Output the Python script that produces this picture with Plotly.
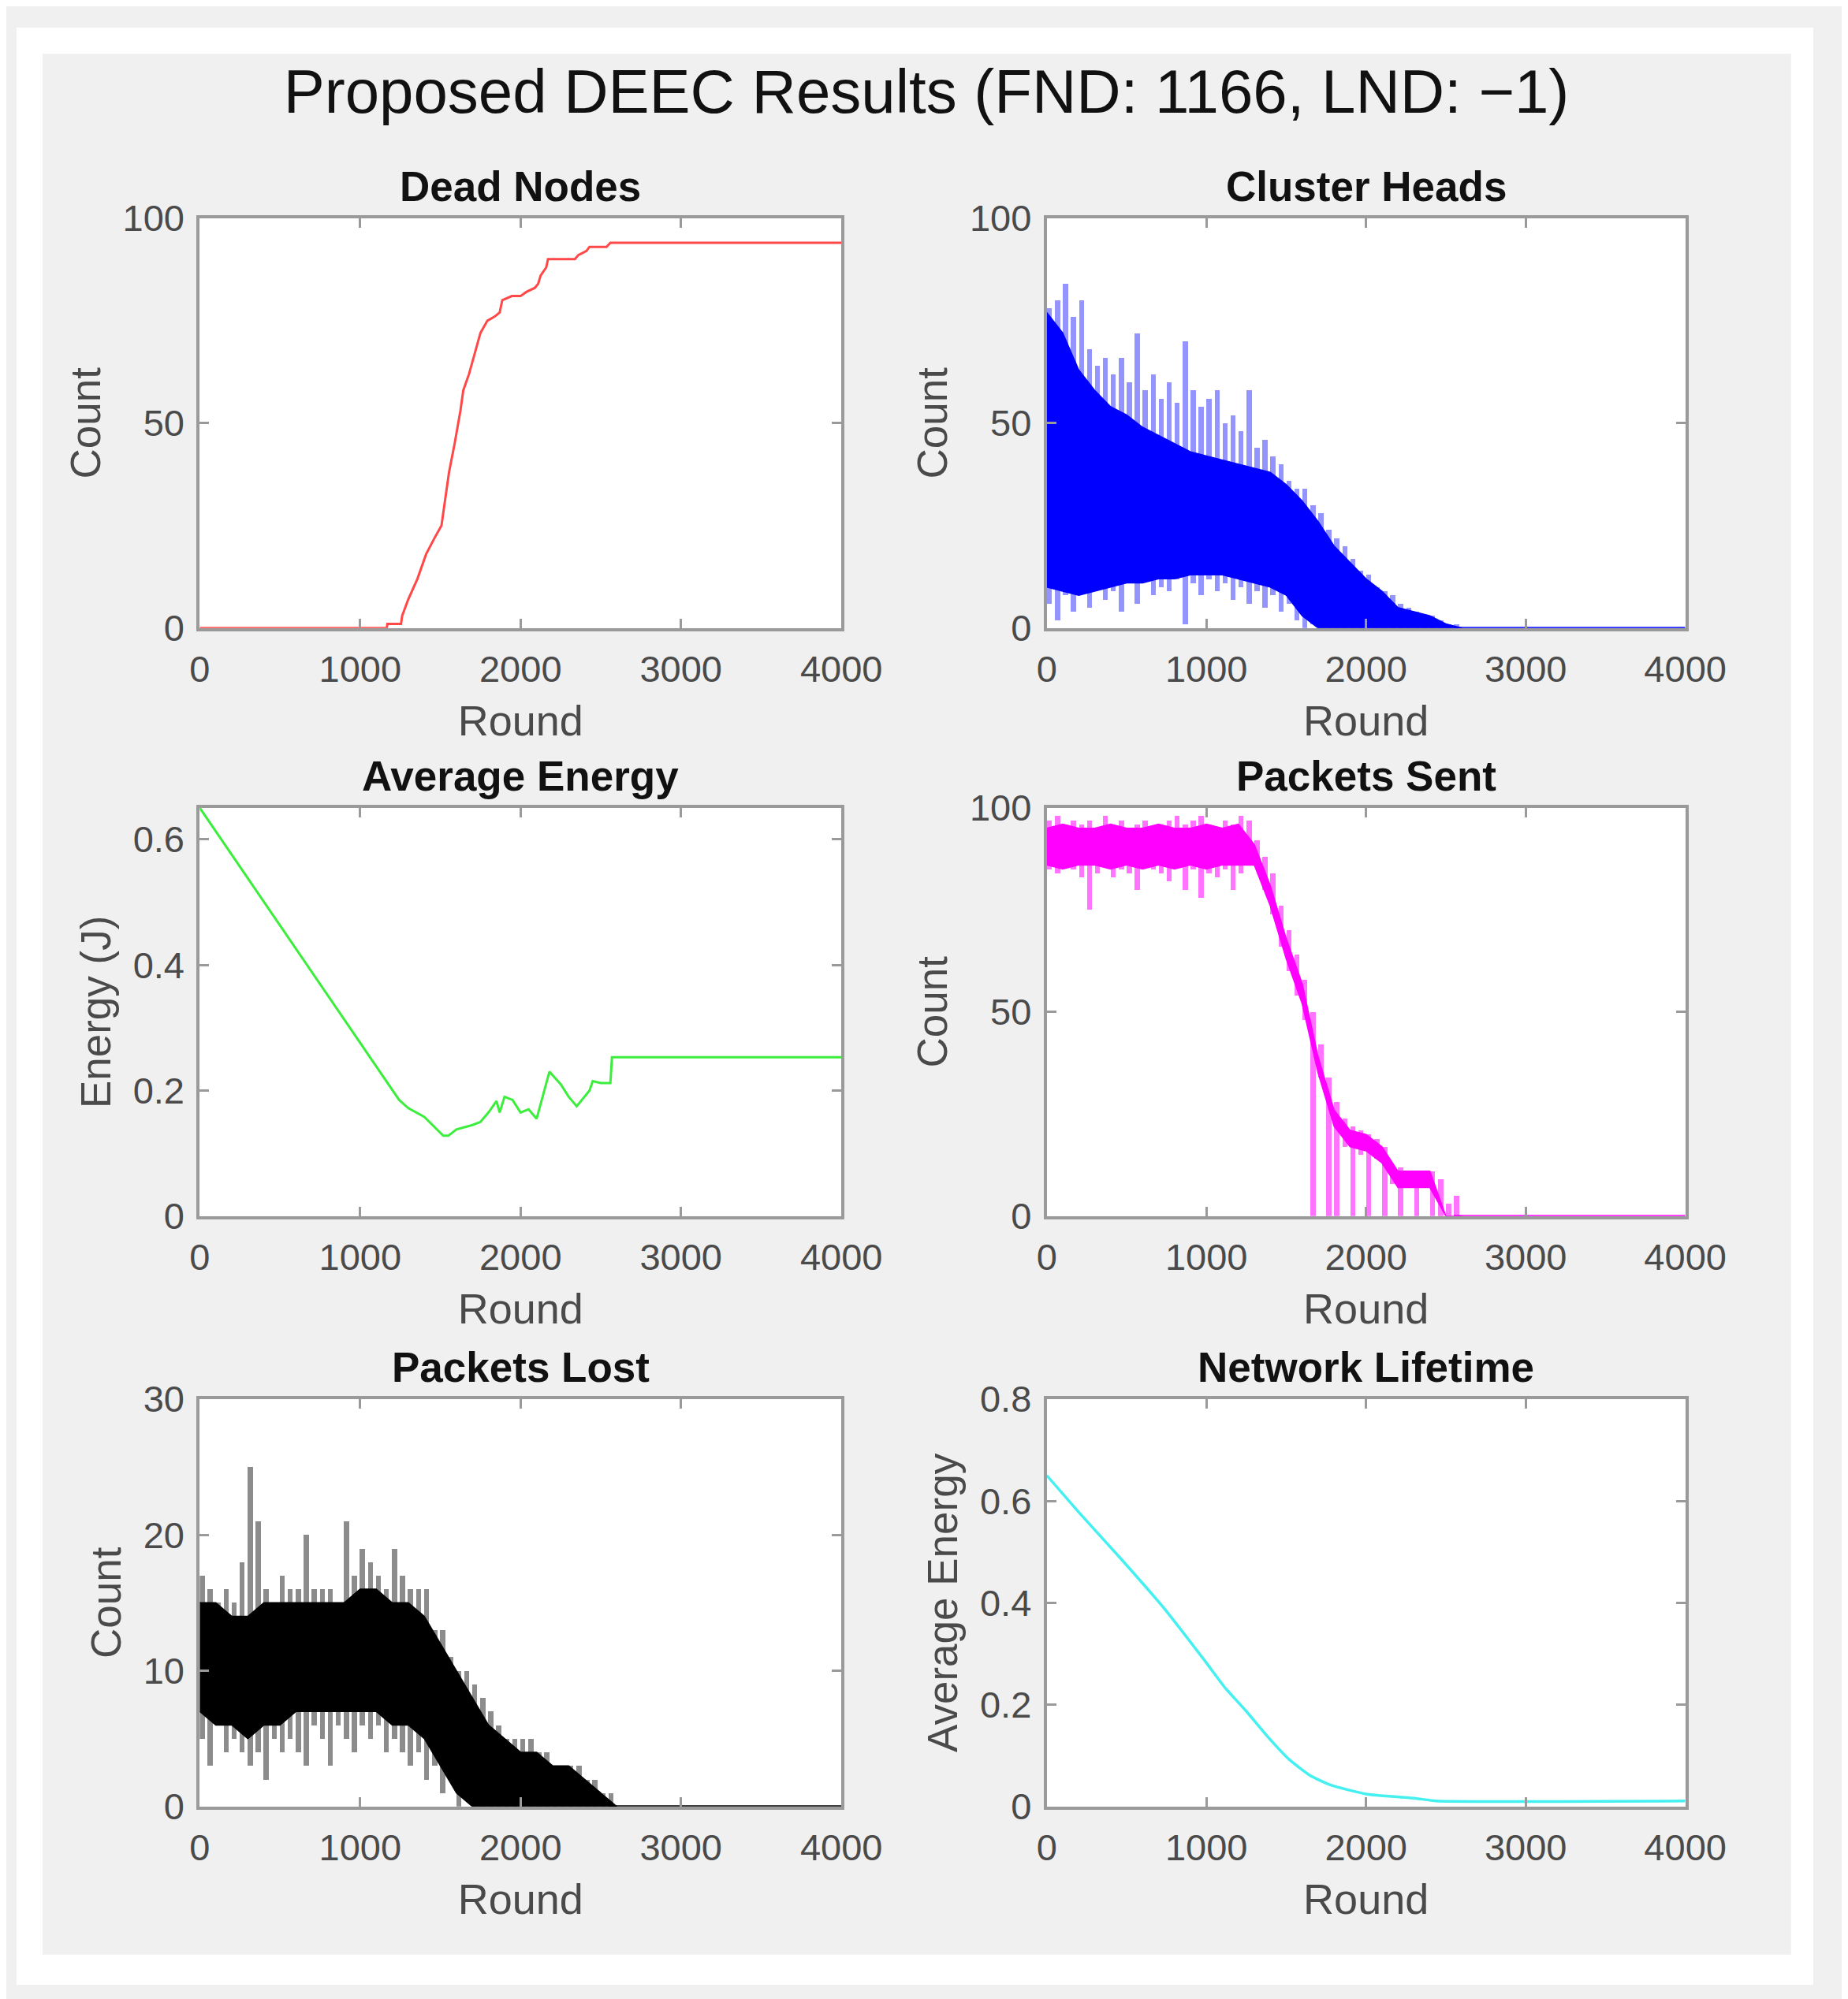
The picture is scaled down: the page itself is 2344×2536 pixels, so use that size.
import numpy as np
import plotly.graph_objects as go

W, H = 2344, 2536

# ---- data ----
# Dead Nodes
dn_rounds = [0, 1166, 1170, 1255, 1262, 1300, 1357, 1411, 1464, 1507, 1554, 1589, 1625, 1643, 1679,
             1714, 1750, 1793, 1839, 1870, 1886, 1946, 2000, 2036, 2089, 2110, 2125, 2160, 2171, 2339,
             2360, 2411, 2430, 2464, 2536, 2560, 2579, 4000]
dn_vals = [0, 0, 1, 1, 3, 7, 12, 18, 22, 25, 38, 45, 53, 58, 62,
           67, 72, 75, 76, 77, 80, 81, 81, 82, 83, 84, 86, 88, 90, 90,
           91, 92, 93, 93, 93, 94, 94, 94]

# Average Energy
ae_rounds = [0, 1243, 1300, 1400, 1518, 1550, 1600, 1700, 1750, 1800, 1850, 1870, 1900, 1950, 2000,
             2050, 2100, 2150, 2180, 2250, 2300, 2350, 2400, 2430, 2450, 2500, 2560, 2570, 4000]
ae_vals = [0.65, 0.185, 0.172, 0.158, 0.128, 0.128, 0.138, 0.145, 0.150, 0.165, 0.183, 0.165, 0.190, 0.185, 0.165,
           0.170, 0.155, 0.200, 0.230, 0.210, 0.190, 0.175, 0.190, 0.200, 0.215, 0.212, 0.212, 0.253, 0.253]

# Network Lifetime
nl_rounds = [0, 200, 460, 730, 1000, 1120, 1250, 1390, 1520, 1650, 1780, 2010, 2310, 2440, 4000]
nl_vals = [0.65, 0.578, 0.488, 0.391, 0.282, 0.232, 0.187, 0.135, 0.092, 0.061, 0.042, 0.024, 0.016, 0.011, 0.011]

# noisy series: solid core (every 100 rounds) + spikes (peak / dip every 50 rounds)
band_rounds = np.arange(0, 2700, 100)
spike_rounds = np.arange(0, 2600, 50) + 16
tail_rounds = [2550, 4000]

# Cluster Heads
ch_core_top = [77, 72, 63, 58, 54, 52, 49, 47, 45, 43, 42, 41, 40, 39, 38, 35, 31, 26, 20, 16, 12, 9, 5, 4, 3, 1, 0]
ch_core_bot = [10, 9, 8, 9, 10, 11, 11, 12, 12, 13, 13, 13, 12, 11, 10, 8, 3, 0, 0, 0, 0, 0, 0, 0, 0, 0, 0]
ch_hi = [78, 80, 84, 76, 80, 68, 64, 66, 62, 66,
         60, 72, 58, 62, 56, 60, 55, 70, 58, 54,
         56, 58, 50, 52, 48, 58, 44, 46, 42, 40,
         36, 34, 34, 30, 28, 24, 22, 20, 17, 14,
         13, 10, 9, 8, 6, 5, 4, 3, 3, 2,
         1, 1]
ch_lo = [6, 2, 8, 4, 9, 5, 10, 7, 9, 4,
         11, 6, 12, 8, 10, 9, 12, 1, 11, 8,
         12, 9, 11, 7, 10, 6, 9, 5, 8, 4,
         6, 2, 0, 1, 0, 0, 0, 0, 0, 0,
         0, 0, 0, 0, 0, 0, 0, 0, 0, 0,
         0, 0]
ch_tail = [0, 0]

# Packets Sent
ps_core_top = [95, 96, 95, 95, 96, 95, 95, 96, 95, 95, 96, 95, 96,
               91, 81, 68, 57, 39, 26, 21, 20, 17, 11, 11, 11, 0, 0]
ps_core_bot = [86, 85, 86, 86, 85, 86, 85, 86, 85, 86, 85, 86, 86,
               86, 76, 63, 52, 35, 22, 17, 16, 13, 7, 7, 7, 0, 0]
ps_hi = [97, 98, 96, 97, 96, 97, 95, 98, 96, 97,
         95, 96, 97, 95, 96, 97, 98, 96, 97, 98,
         96, 95, 97, 96, 98, 97, 92, 88, 84, 76,
         70, 64, 58, 50, 42, 34, 28, 24, 22, 21,
         20, 19, 17, 12, 12, 11, 11, 11, 11, 9,
         3, 5]
ps_lo = [85, 84, 86, 85, 83, 75, 84, 86, 83, 85,
         84, 80, 86, 85, 84, 82, 86, 80, 85, 78,
         84, 83, 85, 80, 84, 86, 86, 80, 74, 66,
         60, 54, 48, 0, 34, 0, 0, 17, 0, 15,
         0, 14, 0, 8, 0, 7, 0, 7, 0, 0,
         0, 0]
ps_tail = [0, 0]

# Packets Lost
pl_core_top = [15, 15, 14, 14, 15, 15, 15, 15, 15, 15, 16, 16, 15, 15, 14, 12, 10, 8, 6, 5, 4, 4, 3, 3, 2, 1, 0]
pl_core_bot = [7, 6, 6, 5, 6, 6, 7, 7, 7, 7, 7, 7, 6, 6, 5, 3, 1, 0, 0, 0, 0, 0, 0, 0, 0, 0, 0]
pl_hi = [17, 16, 15, 16, 15, 18, 25, 21, 16, 15,
         17, 16, 16, 20, 16, 16, 16, 15, 21, 17,
         19, 18, 17, 16, 19, 17, 16, 16, 16, 13,
         13, 11, 10, 10, 9, 8, 7, 6, 5, 5,
         5, 5, 4, 4, 3, 3, 3, 3, 2, 2,
         1, 1]
pl_lo = [5, 3, 6, 4, 5, 4, 3, 4, 2, 5,
         4, 5, 4, 3, 6, 5, 3, 6, 5, 4,
         6, 5, 6, 4, 5, 4, 3, 4, 2, 3,
         1, 2, 0, 1, 0, 0, 0, 0, 0, 0,
         0, 0, 0, 0, 0, 0, 0, 0, 0, 0,
         0, 0]
pl_tail = [0, 0]

# ---- layout helpers (pixel boxes measured on the reference) ----
cols_px = [(239, 1076), (1344, 2177)]
rows_px = [(247, 778), (1011, 1540), (1777, 2305)]

def xd(c):
    return [cols_px[c][0] / W, cols_px[c][1] / W]

def yd(r):
    return [1 - rows_px[r][1] / H, 1 - rows_px[r][0] / H]

FONT = "Liberation Sans"
AXCOL = "#9a9a9a"
TXT = "#4a4a4a"

fig = go.Figure()

panels = [
    # (row, col, title, ytitle, yrange, ytickvals, yticktext)
    (0, 0, "Dead Nodes", "Count", [0, 100], [0, 50, 100], ["0", "50", "100"]),
    (0, 1, "Cluster Heads", "Count", [0, 100], [0, 50, 100], ["0", "50", "100"]),
    (1, 0, "Average Energy", "Energy (J)", [0, 0.65], [0, 0.2, 0.4, 0.6], ["0", "0.2", "0.4", "0.6"]),
    (1, 1, "Packets Sent", "Count", [0, 100], [0, 50, 100], ["0", "50", "100"]),
    (2, 0, "Packets Lost", "Count", [0, 30], [0, 10, 20, 30], ["0", "10", "20", "30"]),
    (2, 1, "Network Lifetime", "Average Energy", [0, 0.8], [0, 0.2, 0.4, 0.6, 0.8],
     ["0", "0.2", "0.4", "0.6", "0.8"]),
]

annotations = []
for i, (r, c, title, ytitle, yr, tv, tt) in enumerate(panels):
    n = "" if i == 0 else str(i + 1)
    axis_common = dict(
        showline=True, linecolor=AXCOL, linewidth=4, mirror="ticks",
        ticks="inside", ticklen=12, tickwidth=3, tickcolor=AXCOL,
        showgrid=False, zeroline=False,
        tickfont=dict(family=FONT, size=47, color=TXT),
    )
    fig.layout["xaxis" + n] = dict(
        domain=xd(c), range=[0, 4000], anchor="y" + n,
        tickvals=[0, 1000, 2000, 3000, 4000], ticklabelstandoff=8,
        title=dict(text="Round", font=dict(family=FONT, size=54, color=TXT), standoff=22),
        **axis_common)
    fig.layout["yaxis" + n] = dict(
        domain=yd(r), range=yr, anchor="x" + n,
        tickvals=tv, ticktext=tt, ticklabelstandoff=6,
        title=dict(text=ytitle, font=dict(family=FONT, size=53, color=TXT), standoff=12),
        **axis_common)
    annotations.append(dict(
        text="<b>" + title + "</b>", xref="paper", yref="paper",
        x=sum(xd(c)) / 2, y=1 - (rows_px[r][0] - 41) / H,
        xanchor="center", yanchor="middle", showarrow=False,
        font=dict(family=FONT, size=53, color="#111111")))

def add_noisy(n, core_top, core_bot, hi, lo, tail, color, spike_color):
    # light spikes: one floating bar per 50 rounds, from dip to peak
    fig.add_trace(go.Bar(
        x=spike_rounds, y=[h - l for h, l in zip(hi, lo)], base=lo, width=32,
        marker=dict(color=spike_color, line=dict(width=0)),
        xaxis="x" + n, yaxis="y" + n, hoverinfo="skip"))
    # solid core
    fig.add_trace(go.Scatter(
        x=list(band_rounds) + list(band_rounds[::-1]),
        y=list(core_top) + list(core_bot[::-1]),
        fill="toself", fillcolor=color, line=dict(width=1.5, color=color), mode="lines",
        xaxis="x" + n, yaxis="y" + n, hoverinfo="skip"))
    fig.add_trace(go.Scatter(
        x=tail_rounds, y=tail, mode="lines", line=dict(color=color, width=3),
        xaxis="x" + n, yaxis="y" + n))

fig.add_trace(go.Scatter(x=dn_rounds, y=dn_vals, mode="lines",
                         line=dict(color="#ff4848", width=3), xaxis="x", yaxis="y"))
add_noisy("2", ch_core_top, ch_core_bot, ch_hi, ch_lo, ch_tail, "#0000ff", "rgba(0,0,255,0.42)")
fig.add_trace(go.Scatter(x=ae_rounds, y=ae_vals, mode="lines",
                         line=dict(color="#3cee3c", width=3), xaxis="x3", yaxis="y3"))
add_noisy("4", ps_core_top, ps_core_bot, ps_hi, ps_lo, ps_tail, "#ff00ff", "rgba(255,0,255,0.55)")
add_noisy("5", pl_core_top, pl_core_bot, pl_hi, pl_lo, pl_tail, "#000000", "rgba(0,0,0,0.45)")
fig.add_trace(go.Scatter(x=nl_rounds, y=nl_vals, mode="lines",
                         line=dict(color="#44f0f0", width=3.5, shape="spline", smoothing=0.5),
                         xaxis="x6", yaxis="y6"))

# white frame around the grey figure area
frame = [
    (0, 1 - 34 / H, 1, 1),
    (0, 0, 1, 1 - 2497 / H),
    (0, 0, 34 / W, 1),
    (2315 / W, 0, 1, 1),
]
shapes = [dict(type="rect", xref="paper", yref="paper", x0=x0, y0=y0, x1=x1, y1=y1,
               fillcolor="white", line=dict(width=0), layer="below")
          for x0, y0, x1, y1 in frame]

fig.update_layout(
    width=W, height=H,
    margin=dict(l=0, r=0, t=0, b=0),
    paper_bgcolor="#f0f0f0", plot_bgcolor="white",
    showlegend=False, barmode="overlay", bargap=0,
    title=dict(text="Proposed DEEC Results (FND: 1166, LND: \u22121)",
               x=1167 / W, y=1 - 108 / H, xanchor="center", yanchor="middle",
               font=dict(family=FONT, size=78, color="#111111")),
    annotations=annotations,
    shapes=shapes,
)

fig.write_html("out.html")
